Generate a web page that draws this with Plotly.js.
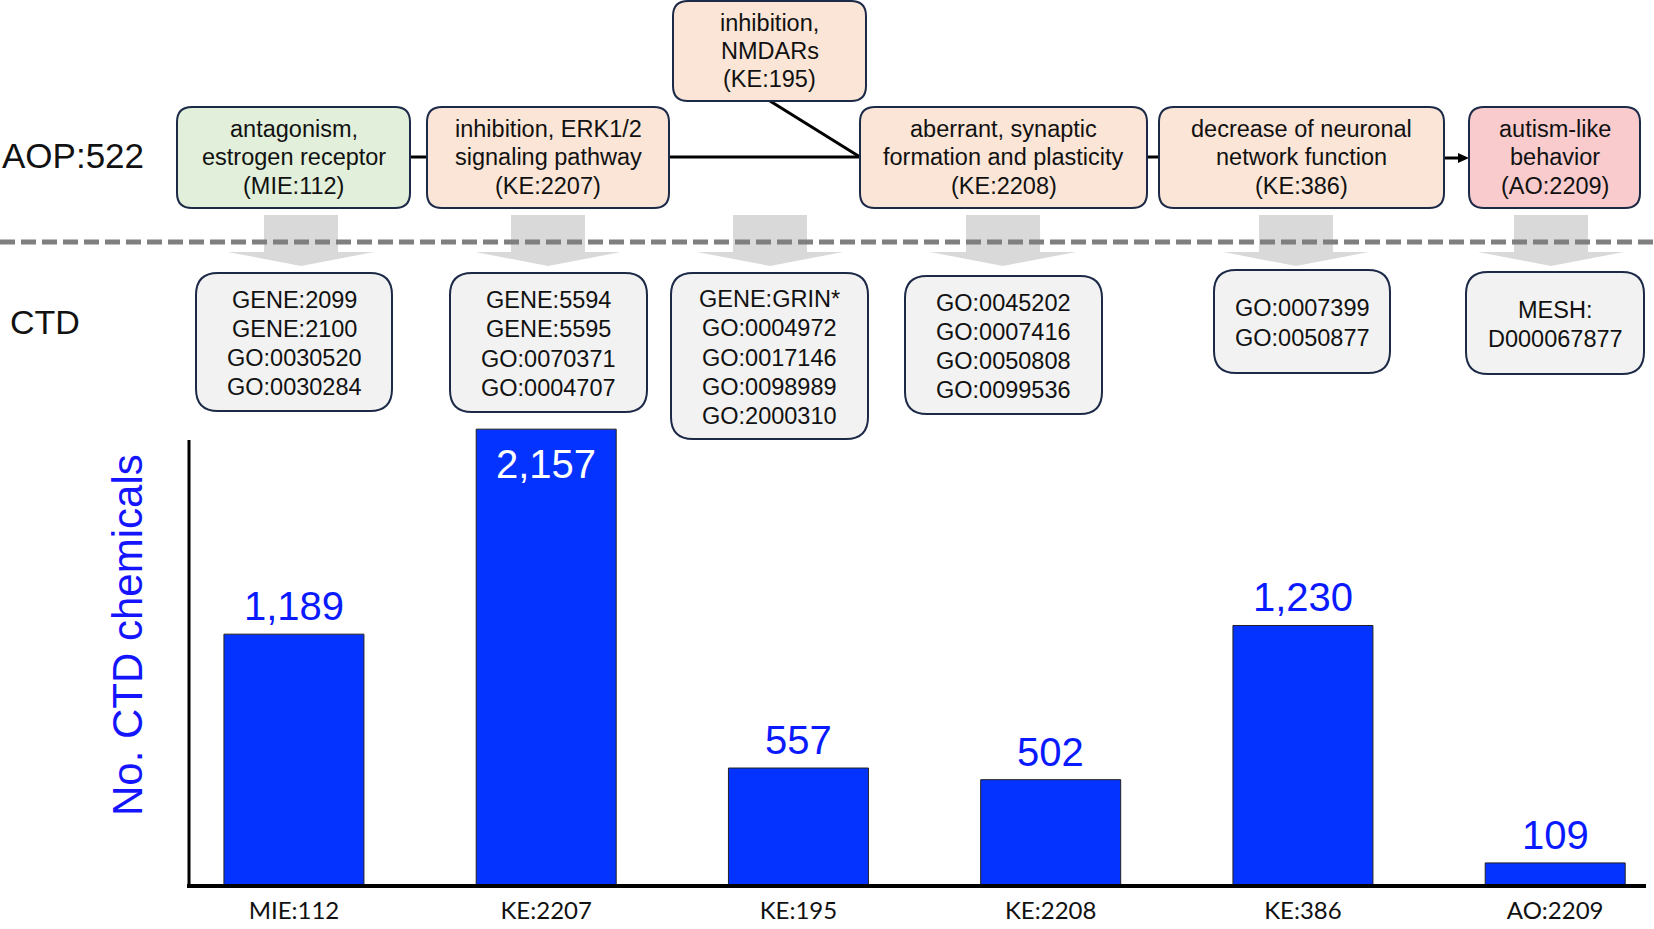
<!DOCTYPE html>
<html>
<head>
<meta charset="utf-8">
<script src="https://cdn.plot.ly/plotly-3.0.1.min.js"></script>
<style>html,body{margin:0;padding:0;background:#fff;}#chart{width:1654px;height:929px;}</style>
</head>
<body>
<div id="chart"></div>
<script>
// ---------- DATA ----------
const categories = ['MIE:112', 'KE:2207', 'KE:195', 'KE:2208', 'KE:386', 'AO:2209'];
const chemicalCounts = [1189, 2157, 557, 502, 1230, 109];
const aopTitle = 'AOP:522';
const ctdTitle = 'CTD';
const yTitle = 'No. CTD chemicals';
const eventLines = [
  ['antagonism,', 'estrogen receptor', '(MIE:112)'],
  ['inhibition, ERK1/2', 'signaling pathway', '(KE:2207)'],
  ['inhibition,', 'NMDARs', '(KE:195)'],
  ['aberrant, synaptic', 'formation and plasticity', '(KE:2208)'],
  ['decrease of neuronal', 'network function', '(KE:386)'],
  ['autism-like', 'behavior', '(AO:2209)']
];
const ctdTerms = [
  ['GENE:2099', 'GENE:2100', 'GO:0030520', 'GO:0030284'],
  ['GENE:5594', 'GENE:5595', 'GO:0070371', 'GO:0004707'],
  ['GENE:GRIN*', 'GO:0004972', 'GO:0017146', 'GO:0098989', 'GO:2000310'],
  ['GO:0045202', 'GO:0007416', 'GO:0050808', 'GO:0099536'],
  ['GO:0007399', 'GO:0050877'],
  ['MESH:', 'D000067877']
];

// ---------- LAYOUT GEOMETRY (pixels) ----------
const W = 1654, H = 929;
const X = px => px / W;
const Y = py => 1 - py / H;
const FONT = 'Liberation Sans, Arial, Helvetica, sans-serif';
const BORDER = '#1c2a48';

const eventBoxes = [
  {x0: 177, y0: 107, x1: 410, y1: 208, fill: '#e2efda'},
  {x0: 427, y0: 107, x1: 669, y1: 208, fill: '#fbe5d6'},
  {x0: 673, y0: 1,   x1: 866, y1: 101, fill: '#fbe5d6'},
  {x0: 860, y0: 107, x1: 1147, y1: 208, fill: '#fbe5d6'},
  {x0: 1159, y0: 107, x1: 1444, y1: 208, fill: '#fbe5d6'},
  {x0: 1469, y0: 107, x1: 1640, y1: 208, fill: '#f9cbcd'}
];
const ctdBoxes = [
  {x0: 196, y0: 273, x1: 392, y1: 411},
  {x0: 450, y0: 273, x1: 647, y1: 412},
  {x0: 671, y0: 273, x1: 868, y1: 439},
  {x0: 905, y0: 276, x1: 1102, y1: 414},
  {x0: 1214, y0: 270, x1: 1390, y1: 373},
  {x0: 1466, y0: 272, x1: 1644, y1: 374}
];
const arrowCenters = [301, 548, 770, 1003, 1296, 1551];

function pt(x, y) { return X(x) + ' ' + Y(y); }
function roundRect(b, r) {
  const {x0, y0, x1, y1} = b;
  return 'M' + pt(x0 + r, y0) + ' L' + pt(x1 - r, y0) + ' Q' + pt(x1, y0) + ' ' + pt(x1, y0 + r) +
    ' L' + pt(x1, y1 - r) + ' Q' + pt(x1, y1) + ' ' + pt(x1 - r, y1) +
    ' L' + pt(x0 + r, y1) + ' Q' + pt(x0, y1) + ' ' + pt(x0, y1 - r) +
    ' L' + pt(x0, y0 + r) + ' Q' + pt(x0, y0) + ' ' + pt(x0 + r, y0) + ' Z';
}

const shapes = [];
const annotations = [];

// gray block arrows
arrowCenters.forEach(c => {
  shapes.push({
    type: 'path', xref: 'paper', yref: 'paper', layer: 'above',
    path: 'M' + pt(c - 37, 215) + ' L' + pt(c + 37, 215) + ' L' + pt(c + 37, 252) + ' L' + pt(c + 73, 252) +
      ' L' + pt(c, 266) + ' L' + pt(c - 73, 252) + ' L' + pt(c - 37, 252) + ' Z',
    fillcolor: '#d9d9d9', line: {width: 0}
  });
});
// dashed separator
shapes.push({type: 'line', xref: 'paper', yref: 'paper', layer: 'above',
  x0: X(0), x1: X(1654), y0: Y(242), y1: Y(242),
  line: {color: '#7f7f7f', width: 5, dash: '15px,6px'}});

// connectors
const conn = [[410, 157, 427, 157], [669, 157, 860, 157], [770, 101, 860, 157], [1147, 157, 1159, 157], [1444, 158, 1460, 158]];
conn.forEach(c => shapes.push({type: 'line', xref: 'paper', yref: 'paper', layer: 'above',
  x0: X(c[0]), y0: Y(c[1]), x1: X(c[2]), y1: Y(c[3]), line: {color: '#000', width: 3}}));
shapes.push({type: 'path', xref: 'paper', yref: 'paper', layer: 'above',
  path: 'M' + pt(1458, 153) + ' L' + pt(1469, 158) + ' L' + pt(1458, 163) + ' Z',
  fillcolor: '#000', line: {width: 0}});

// event boxes + text
eventBoxes.forEach((b, i) => {
  shapes.push({type: 'path', xref: 'paper', yref: 'paper', layer: 'above',
    path: roundRect(b, 15), fillcolor: b.fill, line: {color: BORDER, width: 2}});
  const cx = (b.x0 + b.x1) / 2, cy = (b.y0 + b.y1) / 2;
  const lines = eventLines[i], sp = 28.3;
  lines.forEach((t, k) => {
    annotations.push({xref: 'paper', yref: 'paper', x: X(cx), y: Y(cy + (k - (lines.length - 1) / 2) * sp),
      text: t, showarrow: false, xanchor: 'center', yanchor: 'middle',
      font: {family: FONT, size: 23.5, color: '#111'}});
  });
});

// CTD boxes + text
ctdBoxes.forEach((b, i) => {
  shapes.push({type: 'path', xref: 'paper', yref: 'paper', layer: 'above',
    path: roundRect(b, 22), fillcolor: '#f2f2f2', line: {color: BORDER, width: 2}});
  const cx = (b.x0 + b.x1) / 2, cy = (b.y0 + b.y1) / 2 + 1.5;
  const lines = ctdTerms[i], sp = 29.3;
  lines.forEach((t, k) => {
    annotations.push({xref: 'paper', yref: 'paper', x: X(cx), y: Y(cy + (k - (lines.length - 1) / 2) * sp),
      text: t, showarrow: false, xanchor: 'center', yanchor: 'middle',
      font: {family: FONT, size: 23.5, color: '#111'}});
  });
});

// row labels
annotations.push({xref: 'paper', yref: 'paper', x: X(0), y: Y(155), text: aopTitle, showarrow: false,
  xanchor: 'left', yanchor: 'middle', font: {family: FONT, size: 35, color: '#111'}});
annotations.push({xref: 'paper', yref: 'paper', x: X(8), y: Y(322), text: ctdTitle, showarrow: false,
  xanchor: 'left', yanchor: 'middle', font: {family: FONT, size: 34, color: '#111'}});

// y title
annotations.push({xref: 'paper', yref: 'paper', x: X(127), y: Y(635), text: yTitle, showarrow: false,
  textangle: -90, xanchor: 'center', yanchor: 'middle', font: {family: FONT, size: 42, color: '#1414ff'}});

// value labels
const fmt = v => v.toString().replace(/\B(?=(\d{3})+(?!\d))/g, ',');
categories.forEach((c, i) => {
  const inside = chemicalCounts[i] === Math.max(...chemicalCounts);
  annotations.push({xref: 'x', yref: 'y', x: c, y: chemicalCounts[i], text: fmt(chemicalCounts[i]),
    showarrow: false, xanchor: 'center', yanchor: 'middle', yshift: inside ? -35 : 28,
    font: {family: FONT, size: 40, color: inside ? '#ffffff' : '#0a1aff'}});
});

// axis lines
shapes.push({type: 'line', xref: 'paper', yref: 'paper', layer: 'above',
  x0: X(189), x1: X(189), y0: Y(440), y1: Y(887), line: {color: '#000', width: 3}});
shapes.push({type: 'line', xref: 'paper', yref: 'paper', layer: 'above',
  x0: X(187), x1: X(1646), y0: Y(886), y1: Y(886), line: {color: '#000', width: 4}});

const pxPerUnit = 0.2118;
const trace = {
  type: 'bar', x: categories, y: chemicalCounts, width: 0.555,
  marker: {color: '#0433ff', line: {color: '#222', width: 1}},
  hoverinfo: 'x+y'
};
const layout = {
  width: W, height: H, margin: {l: 0, r: 0, t: 0, b: 0},
  paper_bgcolor: '#fff', plot_bgcolor: 'rgba(0,0,0,0)', showlegend: false,
  xaxis: {type: 'category', domain: [X(188), X(1646)], range: [-0.42, 5.36],
    showgrid: false, zeroline: false, showline: false, ticks: '', ticklabelstandoff: 8,
    tickfont: {family: 'Lato, Carlito, sans-serif', size: 24, color: '#111'}, fixedrange: true},
  yaxis: {domain: [Y(886), Y(400)], range: [0, (886 - 400) / pxPerUnit],
    showgrid: false, zeroline: false, showline: false, showticklabels: false, ticks: '', fixedrange: true},
  shapes: shapes, annotations: annotations
};
Plotly.newPlot('chart', [trace], layout, {displayModeBar: false, staticPlot: true});
</script>
</body>
</html>
